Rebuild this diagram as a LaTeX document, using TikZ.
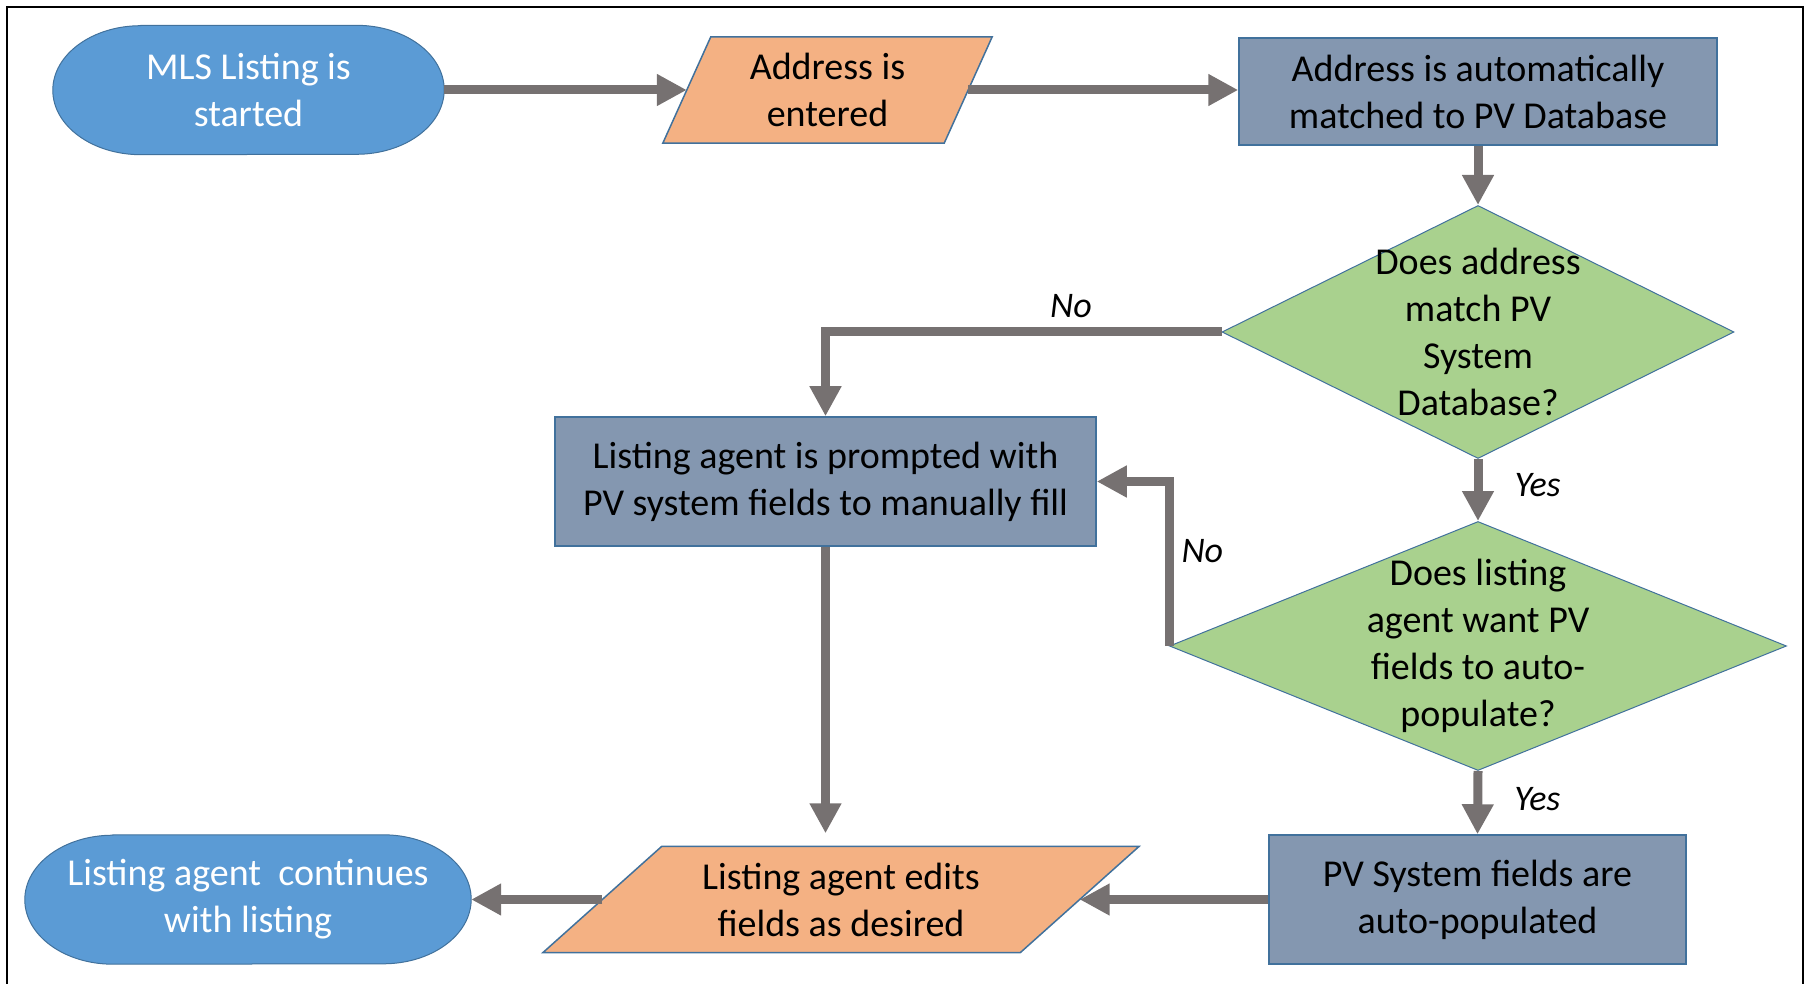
\documentclass[tikz,border=0pt]{standalone}
\usepackage{fontspec}
\setmainfont{Carlito}
\usetikzlibrary{arrows.meta,calc,backgrounds,shapes.geometric}
\definecolor{termblue}{HTML}{5B9BD5}
\definecolor{edgeblue}{HTML}{41719C}
\definecolor{slate}{HTML}{8497B0}
\definecolor{peach}{HTML}{F4B183}
\definecolor{leaf}{HTML}{A9D18E}
\definecolor{arrowgray}{HTML}{767171}

\begin{document}
\begin{tikzpicture}[x=1pt,y=1pt,
	every node/.style={font=\fontsize{38}{47}\selectfont, align=center},
	terminal/.style={minimum width=#1, minimum height=129pt, text=white},
	process/.style={rectangle, draw=edgeblue, line width=1.5pt, fill=slate},
	inout/.style={minimum width=#1, minimum height=106pt},
	decision/.style={diamond, draw=edgeblue, line width=1pt, fill=leaf, inner sep=0pt},
	flow/.style={draw=arrowgray, line width=9pt, -{Triangle[length=30pt,width=30pt]}},
	answer/.style={font=\fontsize{36}{40}\selectfont\itshape, inner sep=0pt}]
		\useasboundingbox (0,0) rectangle (1808,-984);
		\draw [line width=2.5pt] (7,-984) -- (7,-7) -- (1803,-7) -- (1803,-984);

		\node[terminal=391pt] (mls) at (248.5,-90) {MLS Listing is\\started};
		\node[inout=281pt] (addr) at (827.5,-90) {Address is\\entered};
		\node[process, minimum width=478pt, minimum height=107pt] (match) at (1478,-91.5) {Address is automatically\\matched to PV Database};
		\node[decision, minimum width=512pt, minimum height=253pt,
			label={[align=center]center:Does address\\match PV\\System\\Database?}] (q1) at (1478,-332) {};
		\node[process, minimum width=541pt, minimum height=129pt] (prompt) at (825.5,-481.5) {Listing agent is prompted with\\PV system fields to manually fill};
		\node[decision, minimum width=617pt, minimum height=249pt,
			label={[align=center]center:Does listing\\agent want PV\\fields to auto-\\populate?}] (q2) at (1478,-646) {};
		\node[process, minimum width=417pt, minimum height=129pt] (pv) at (1477.5,-899.5) {PV System fields are\\auto-populated};
		\node[inout=477pt] (edit) at (841,-899.5) {Listing agent edits\\fields as desired};
		\node[terminal=446pt] (endt) at (248,-899.5) {Listing agent\ \ continues\\with listing};

		% shapes behind the texts
		\begin{scope}[on background layer]
		\foreach \t in {mls,endt} {
			\filldraw [fill=termblue, draw=edgeblue, line width=1pt]
				($(\t.north west)+(88,0)$) -- ($(\t.north east)+(-88,0)$)
				arc [start angle=90, end angle=-90, x radius=88pt, y radius=64.5pt]
				-- ($(\t.south west)+(88,0)$)
				arc [start angle=270, end angle=90, x radius=88pt, y radius=64.5pt] -- cycle;
		}
		\foreach \t/\s in {addr/24,edit/59.5} {
			\filldraw [fill=peach, draw=edgeblue, line width=1.5pt]
				($(\t.south west)+(-\s,0)$) -- ($(\t.south east)+(-\s,0)$)
				-- ($(\t.north east)+(\s,0)$) -- ($(\t.north west)+(\s,0)$) -- cycle;
		}
		\end{scope}

		\draw[flow] (mls.east) -- (addr.west);
		\draw[flow] (addr.east) -- (addr.east -| match.west);
		\draw[flow] (match.south) -- (q1.north);
		\draw[flow] (q1.west) -| node[answer, above=10pt, pos=0.19] {No} (prompt.north);
		\draw[flow] (q1.south) -- node[answer, right=32pt, yshift=5pt] {Yes} (q2.north);
		\draw[flow] (q2.west) |- node[answer, right=8pt, pos=0.29] {No} (prompt.east);
		\draw[flow] (q2.south) -- node[answer, right=32pt, yshift=4pt] {Yes} (pv.north);
		\draw[flow] (prompt.south) -- ($(prompt.south |- edit.north)+(0,13)$);
		\draw[flow] (pv.west) -- (pv.west -| edit.east);
		\draw[flow] (edit.west) -- (edit.west -| endt.east);
		\end{tikzpicture}
\end{document}
